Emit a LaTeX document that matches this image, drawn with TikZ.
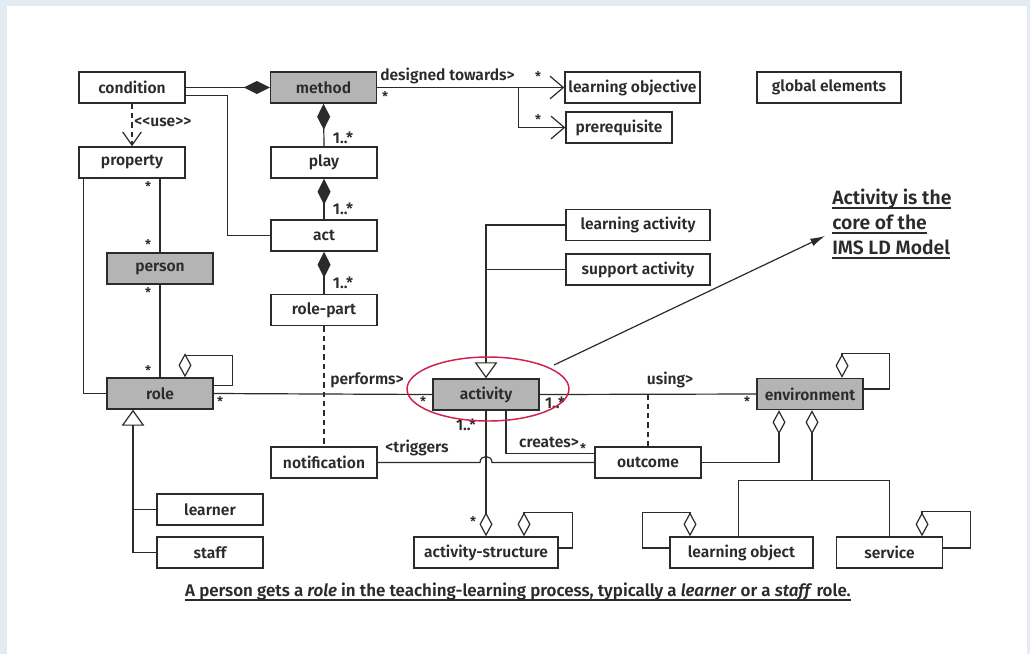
\documentclass[tikz,border=0pt]{standalone}
\usepackage{fontspec}
\setmainfont{Fira Sans}[UprightFont={* SemiBold},ItalicFont={* SemiBold Italic}]
\usetikzlibrary{arrows.meta,calc}

\definecolor{ink}{HTML}{2B2B2B}
\definecolor{coregray}{HTML}{B4B4B4}
\definecolor{framebg}{HTML}{E5EBF3}
\definecolor{ringred}{HTML}{D21F4B}

\newcommand\boxfont{\fontsize{11.7pt}{14pt}\selectfont}
\newcommand\multfont{\fontsize{10pt}{12pt}\selectfont}
\newcommand\notefont{\fontsize{14.5pt}{18.75pt}\selectfont}
\newcommand\capfont{\fontsize{12.7pt}{14pt}\selectfont}
\newcommand\ulbar[1]{\setbox0\hbox{#1}\rlap{\rule[-3.5pt]{\wd0}{1.4pt}}\box0}

\begin{document}
\begin{tikzpicture}[
  x=0.75pt, y=-0.75pt,
  every node/.style={text=ink, font=\boxfont},
  cls/.style={draw=ink, line width=1.1pt, fill=white, minimum width=79.5pt, minimum height=23.25pt, inner sep=0pt},
  core/.style={cls, fill=coregray},
  wide/.style={minimum width=108pt},
  lbl/.style={inner sep=0pt},
  star/.style={inner sep=0pt, font=\multfont},
  link/.style={draw=ink, line width=0.9pt},
  comp/.style={link, {Diamond[length=19.5pt, width=9.75pt]}-},
  agg/.style={link, {Diamond[open, length=18pt, width=9.75pt]}-},
  gen/.style={link, -{Triangle[open, length=12pt, width=17pt]}},
  nav/.style={link, -{Straight Barb[length=10pt, width=17pt]}},
  dep/.style={link, dash pattern=on 4pt off 3pt}
]
\fill[framebg] (0,0) rectangle (1030,654);
\fill[white] (7,6) rectangle (1027,654);
\useasboundingbox (0,0) rectangle (1030,654);

% classes
\node[cls] (condition) at (132,87.5) {condition};
\node[core] (method) at (323.5,87.5) {method};
\node[cls, minimum width=101.25pt] (objective) at (632.5,87.5) {learning objective};
\node[cls] (prerequisite) at (619,127.5) {prerequisite};
\node[cls, wide] (globals) at (829,87.5) {global elements};
\node[cls] (property) at (132,162.5) {property};
\node[cls] (play) at (324,162.5) {play};
\node[cls] (act) at (324,235.5) {act};
\node[core] (person) at (160,268.5) {person};
\node[cls] (rolepart) at (324,310) {role-part};
\node[cls, wide] (learnact) at (638,225) {learning activity};
\node[cls, wide] (supportact) at (638,269.5) {support activity};
\node[core] (role) at (160,393.5) {role};
\node[core] (activity) at (486,394.5) {activity};
\node[core] (environment) at (810,394) {environment};
\node[cls] (notification) at (324,462.5) {notification};
\node[cls] (outcome) at (648,462.5) {outcome};
\node[cls] (learner) at (210,509.5) {learner};
\node[cls] (staff) at (210,552.5) {staff};
\node[cls, wide] (actstruct) at (486,552.5) {activity-structure};
\node[cls, minimum width=107.25pt] (learnobj) at (741.5,552.5) {learning object};
\node[cls] (service) at (889.5,552.5) {service};

% method side
\draw[comp] (method.west) -- (condition.east);
\draw[link] ($(condition.east)+(0,8)$) -- ($(condition.east)+(42,8)$) |- (act.west);
\draw[dep, -{Straight Barb[length=10pt, width=14pt]}] (condition.south) -- (property.north);
\draw[comp] (method.south) -- (play.north);
\draw[comp] (play.south) -- (act.north);
\draw[comp] (act.south) -- (rolepart.north);
\draw[dep] (rolepart.south) -- (notification.north);
\draw[nav] (method.east) -- (objective.west);
\draw[nav] ($(method.east)+(141,0)$) |- (prerequisite.west);

% person and role
\draw[link] (person.north) -- (person.north |- property.south);
\draw[link] (person.south) -- (role.north);
\draw[link] ($(property.south west)+(5,0)$) |- (role.west);
\draw[agg] ($(role.north)+(25,0)$) |- ($(role.north east)+(19,-22)$) |- ($(role.east)+(0,-8)$);
\draw[link] (role.east) -- (activity.west);
\draw[gen] (staff.west) -| ($(role.south)+(-27,0)$);
\draw[link] (learner.west) -- ++(-24,0);

% activity
\draw[gen] (learnact.west) -| (activity.north);
\draw[link] (supportact.west) -- (supportact.west -| activity.north);
\draw[link] (activity.east) -- (environment.west);
\draw[dep] (outcome.north) -- (outcome.north |- environment.west);
\draw[agg] (actstruct.north) -- (activity.south);
\draw[link] ($(activity.south)+(20,0)$) |- ($(outcome.west)+(0,-9)$);
\coordinate (hop) at (activity.south |- notification.east);
\draw[link] (notification.east) -- ($(hop)+(-6,0)$)
  .. controls ($(hop)+(-6,-8)$) and ($(hop)+(6,-8)$) .. ($(hop)+(6,0)$) -- (outcome.west);
\draw[agg] ($(actstruct.north)+(38,0)$) |- ($(actstruct.north east)+(14,-24)$) |- ($(actstruct.east)+(0,-4.5)$);

% environment
\draw[agg] ($(environment.south)+(-31,0)$) |- (outcome.east);
\coordinate (envjoin) at ($(environment.south)+(2,70)$);
\draw[agg] ($(environment.south)+(2,0)$) -- (envjoin);
\draw[link] ($(learnobj.north)+(-3,0)$) |- (envjoin) -| (service.north);
\draw[agg] ($(environment.north)+(32,0)$) |- ($(environment.north east)+(26,-24)$) |- ($(environment.east)+(0,-5)$);
\draw[agg] ($(learnobj.north)+(-51.5,0)$) |- ($(learnobj.north west)+(-27,-24)$) |- ($(learnobj.west)+(0,-4.5)$);
\draw[agg] ($(service.north)+(32.5,0)$) |- ($(service.north east)+(27,-25)$) |- ($(service.east)+(0,-4.5)$);

% labels
\node[lbl, anchor=west] (usetag) at (134,122) {<{}<use>{}>};
\node[lbl] (playmult) at (343,138) {1..*};
\node[lbl] (actmult) at (343,209) {1..*};
\node[lbl] (rpmult) at (343,283) {1..*};
\node[lbl, anchor=west] (towards) at (380,76) {designed towards>};
\node[star] (st1) at (385,97) {*};
\node[star] (st2) at (538,77) {*};
\node[star] (st3) at (538,120) {*};
\node[star] (st4) at (148,187) {*};
\node[star] (st5) at (148,245) {*};
\node[star] (st6) at (148,293) {*};
\node[star] (st7) at (148,371) {*};
\node[star] (st8) at (220,402) {*};
\node[lbl] (performs) at (367,380) {performs>};
\node[star] (st9) at (423,402) {*};
\node[lbl] (usemult) at (555,403) {1..*};
\node[lbl] (structmult) at (466,425) {1..*};
\node[lbl] (creates) at (549,442) {creates>};
\node[star] (st10) at (583,449) {*};
\node[lbl] (triggers) at (417,448) {<triggers};
\node[lbl] (using) at (670,380) {using>};
\node[star] (st11) at (747,402) {*};
\node[star] (st12) at (473,522) {*};

% core note
\draw[ringred, line width=1.1pt] (488,389) ellipse [x radius=81, y radius=32];
\node[align=left, anchor=west, inner sep=0pt, font=\notefont] (corenote) at (832,224)
  {\ulbar{Activity is the}\\\ulbar{core of the}\\\ulbar{IMS LD Model}};
\coordinate (ringedge) at (554,365);
\coordinate (notetip) at (825,236);
\draw[link, -{Latex[length=11pt, width=6pt]}] (ringedge) -- (notetip);

\node[anchor=base, inner sep=0pt, font=\capfont] (caption) at (518,596)
  {\ulbar{A person gets a \textit{role} in the teaching-learning process, typically a \textit{learner} or a \textit{staff} role.}};
\end{tikzpicture}
\end{document}
